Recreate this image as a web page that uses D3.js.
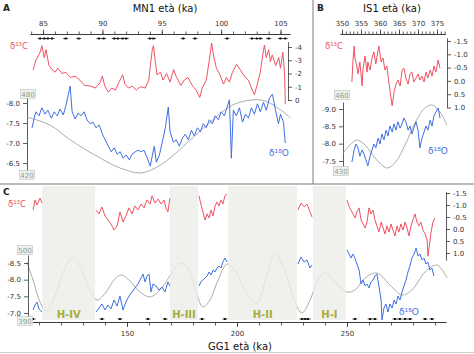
<!DOCTYPE html>
<html><head><meta charset="utf-8">
<script src="https://cdn.jsdelivr.net/npm/d3@7"></script>
<style>
body{margin:0;background:#fff;}
svg{display:block;font-family:"DejaVu Sans",Verdana,sans-serif;}
.axis path,.axis line{stroke:#333;stroke-width:0.8;}
.axis text{font-size:7px;fill:#333;font-family:"DejaVu Sans",Verdana,sans-serif;}
</style></head><body><div id="chart"></div>
<script>
// ---- data: [age ka, value]; null = gap in record ----
var aRed=[[84.16,-2.26],[84.4,-3.0],[84.75,-3.6],[84.9,-4.1],[85.1,-3.2],[85.25,-3.8],[85.5,-2.6],[85.75,-2.3],[86.0,-2.1],[86.25,-2.4],[86.6,-2.0],[86.9,-2.1],[87.3,-1.7],[87.7,-1.8],[88.1,-1.5],[88.5,-1.1],[89.0,-1.05],[89.4,-0.9],[89.8,-1.3],[90.0,-1.8],[90.2,-1.05],[90.5,-0.6],[90.8,-0.9],[91.1,-0.75],[91.4,-1.35],[91.7,-1.9],[91.9,-1.2],[92.2,-0.9],[92.5,-1.05],[92.85,-0.75],[93.2,-1.0],[93.6,-0.9],[93.9,-1.5],[94.0,-2.3],[94.2,-3.8],[94.3,-4.1],[94.45,-2.9],[94.6,-1.9],[94.9,-2.1],[95.1,-1.5],[95.4,-2.0],[95.7,-1.35],[96.0,-2.3],[96.2,-1.8],[96.6,-1.1],[96.9,-1.5],[97.2,-1.7],[97.6,-1.05],[97.9,-0.75],[98.2,-0.2],[98.4,-0.9],[98.75,-1.5],[99.0,-3.0],[99.2,-4.3],[99.35,-3.4],[99.6,-2.4],[99.85,-2.0],[100.2,-1.2],[100.45,-1.7],[100.7,-1.35],[100.95,-2.1],[101.3,-2.7],[101.6,-2.3],[101.95,-1.8],[102.3,-1.5],[102.55,-0.9],[102.8,-0.4],[103.05,-1.2],[103.3,-2.1],[103.5,-3.4],[103.65,-4.15],[103.8,-3.2],[104.0,-3.8],[104.15,-2.9],[104.3,-3.4],[104.6,-2.6],[104.85,-3.2],[105.0,-2.4],[105.2,-3.6],[105.35,-1.9],[105.4,0.3]];
var aBlue=[[84.07,-7.38],[84.25,-7.62],[84.4,-7.78],[84.66,-7.68],[84.9,-7.88],[85.17,-7.72],[85.4,-7.82],[85.7,-7.62],[85.93,-7.78],[86.2,-7.68],[86.43,-7.85],[86.7,-7.7],[86.94,-7.95],[87.1,-8.18],[87.28,-8.42],[87.45,-7.78],[87.7,-7.6],[87.95,-7.75],[88.2,-7.68],[88.46,-7.78],[88.7,-7.58],[88.97,-7.48],[89.2,-7.52],[89.47,-7.38],[89.73,-7.45],[90.0,-7.22],[90.23,-7.08],[90.5,-6.92],[90.74,-6.78],[91.0,-6.88],[91.24,-6.72],[91.5,-6.78],[91.75,-6.62],[92.0,-6.7],[92.26,-6.58],[92.5,-6.72],[92.76,-6.78],[93.0,-6.82],[93.27,-6.78],[93.5,-6.82],[93.78,-6.62],[94.03,-6.42],[94.2,-6.68],[94.37,-6.92],[94.54,-6.52],[94.8,-6.7],[95.04,-7.02],[95.3,-7.38],[95.55,-7.9],[95.7,-7.28],[95.97,-7.02],[96.22,-7.08],[96.48,-6.92],[96.73,-7.12],[96.98,-7.22],[97.24,-7.08],[97.5,-7.32],[97.74,-7.18],[98.0,-7.38],[98.25,-7.28],[98.5,-7.48],[98.75,-7.38],[99.0,-7.58],[99.26,-7.48],[99.5,-7.68],[99.77,-7.58],[100.0,-7.78],[100.27,-7.68],[100.53,-7.92],[100.7,-8.08],[100.86,-6.62],[101.03,-7.82],[101.28,-7.68],[101.54,-7.88],[101.8,-7.52],[102.05,-7.72],[102.3,-7.62],[102.55,-7.88],[102.8,-7.72],[103.06,-7.98],[103.3,-7.78],[103.57,-8.02],[103.8,-7.82],[104.07,-8.12],[104.32,-8.22],[104.58,-7.82],[104.83,-7.48],[105.0,-7.72],[105.25,-7.52],[105.4,-7.0]];
var aIns=[[83.65,465.8],[85.6,459],[87.3,446.7],[89.8,431.7],[91.5,423.3],[93.2,419.2],[94.45,423.3],[95.7,431.7],[97.4,446.7],[99.1,461.7],[100.8,475],[102.5,480],[103.7,479.2],[105.0,471.7],[105.85,465]];
var aDates=[84.75,85.1,85.4,85.75,86.9,88,89.7,90.1,91,91.3,91.7,92,94,94.3,96.8,97.8,100.5,102.6,103,103.3,104,105,105.4];

var bRed=[[352.6,0.04],[352.9,-0.79],[353.2,-1.31],[353.4,-0.86],[353.9,-0.56],[354.2,-0.26],[354.7,-0.71],[355.3,0.19],[355.5,-0.41],[356.05,-0.94],[356.6,-0.33],[356.8,-0.71],[357.4,-0.41],[357.9,-0.86],[358.4,-1.09],[358.9,-0.64],[359.5,-1.16],[359.7,-1.31],[360.3,-0.71],[360.8,-0.86],[361.3,-0.41],[361.8,-0.56],[362.4,0.12],[362.9,0.64],[363.2,0.94],[363.7,0.42],[364.2,0.12],[364.7,-0.03],[365.3,0.19],[365.8,-0.41],[366.3,-0.48],[366.8,-0.11],[367.4,0.12],[367.9,-0.26],[368.4,-0.33],[368.9,0.04],[369.5,-0.11],[370.0,-0.26],[370.5,-0.03],[371.05,-0.18],[371.6,0.04],[372.1,-0.33],[372.6,-0.11],[373.2,-0.41],[373.7,-0.18],[374.2,-0.56],[374.7,-0.33],[375.3,-0.79],[375.8,-0.48]];
var bBlue=[[352.6,-7.47],[353.2,-7.82],[353.7,-7.99],[354.2,-7.88],[354.7,-7.64],[355.3,-7.82],[355.8,-7.7],[356.3,-7.53],[356.8,-7.36],[357.4,-7.64],[357.9,-7.82],[358.4,-7.99],[358.9,-7.88],[359.5,-8.16],[360.0,-7.99],[360.5,-8.28],[361.05,-8.11],[361.6,-8.39],[362.1,-8.22],[362.6,-8.51],[363.2,-8.34],[363.7,-8.57],[364.2,-8.39],[364.7,-8.63],[365.3,-8.45],[365.8,-8.57],[366.3,-8.74],[366.8,-8.63],[367.4,-8.39],[367.9,-8.51],[368.4,-8.28],[368.9,-8.45],[369.5,-8.63],[370.0,-8.39],[370.5,-7.88],[371.05,-8.16],[371.6,-8.34],[372.1,-8.51],[372.6,-8.39],[373.2,-8.68],[373.7,-8.51],[374.2,-8.8],[374.7,-8.91],[375.3,-9.03],[375.8,-8.74]];
var bIns=[[350.26,436.8],[352.1,440],[353.9,442],[356.05,440],[358.7,434.8],[361.8,430.8],[363.9,432.8],[366.6,440],[369.2,448.8],[371.8,454.8],[373.7,456],[375.8,453.2],[377.6,448]];

var cRed=[[107.3,-0.79],[108.2,-1.21],[109.1,-1.0],[110.45,-1.29],[111.4,-1.08],null,
 [135.9,-0.79],[137.3,-0.63],[138.6,-0.92],[140.0,-0.54],[141.4,-0.38],[142.7,-0.21],[144.1,0.04],[145.5,-0.13],[146.8,-0.71],[148.2,-0.29],[149.5,-0.54],[150.9,-0.88],[152.3,-0.63],[153.6,-0.96],[155.0,-0.79],[156.4,-1.04],[157.7,-0.88],[159.1,-1.21],[160.5,-1.04],[161.4,-1.38],[162.7,-1.08],[164.1,-1.25],[165.5,-1.04],[166.8,-1.21],[167.7,-0.88],[168.6,-0.71],[169.5,-1.29],null,
 [182.7,-1.38],[183.6,-1.04],[184.5,-0.71],[185.5,-0.38],[186.4,-0.63],[187.3,-0.46],[188.2,-0.79],[189.1,-0.54],[190.0,-0.96],[190.9,-1.13],[191.8,-0.96],[192.7,-1.21],[193.6,-1.04],[194.5,-1.38],[195.5,-1.46],null,
 [227.7,-0.79],[229.1,-1.08],[230.5,-0.92],[231.8,-1.04],[233.2,-0.71],[234.1,-0.5],null,
 [250.0,-1.21],[250.9,-0.96],[251.8,-0.79],[252.7,-0.63],[253.6,-0.46],[254.5,-0.71],[255.5,-0.88],[256.4,-0.38],[257.3,-0.21],[258.2,-0.04],[259.1,-0.29],[260.0,-0.88],[260.9,-0.63],[261.8,-0.79],[262.7,-0.38],[263.6,-0.13],[264.5,0.13],[265.5,-0.29],[266.4,-0.04],[267.3,0.21],[268.2,-0.13],[269.1,0.13],[270.0,-0.21],[270.9,0.04],[271.8,0.29],[272.7,-0.13],[273.6,0.13],[274.5,-0.21],[275.5,0.04],[276.4,-0.29],[277.3,-0.04],[278.2,0.29],[279.1,-0.13],[280.0,-0.38],[280.9,-0.63],[281.8,-0.29],[282.7,-0.13],[283.6,-0.29],[284.5,0.04],[285.5,0.21],[286.4,0.46],[286.8,1.13],[287.3,0.79],[288.2,0.13],[289.1,-0.29],[290.0,-0.46]];
var cBlue=[[107.3,-7.09],[108.2,-7.24],[109.1,-7.33],[110.0,-7.12],[111.4,-7.03],null,
 [135.9,-7.03],[137.3,-7.15],[138.6,-7.27],[140.0,-7.09],[141.4,-7.24],[142.7,-7.12],[144.1,-7.39],[145.5,-7.21],[146.8,-7.51],[148.2,-7.09],[149.5,-7.33],[150.9,-7.51],[152.3,-7.63],[153.6,-7.75],[155.0,-7.87],[156.4,-8.05],[157.3,-8.17],[158.2,-7.93],[159.1,-8.11],[160.0,-8.17],[160.9,-7.63],[161.8,-7.87],[163.2,-7.81],[164.5,-7.69],[165.9,-7.78],[167.3,-7.63],[168.6,-7.93],[169.5,-7.81],null,
 [182.7,-7.81],[183.6,-7.93],[184.5,-7.99],[185.5,-8.05],[186.4,-8.11],[187.3,-8.23],[188.2,-8.14],[189.1,-8.29],[190.0,-8.23],[190.9,-8.35],[191.8,-8.41],[192.7,-8.35],[193.6,-8.53],[194.5,-8.65],[195.5,-8.53],null,
 [227.7,-8.47],[229.1,-8.68],[230.5,-8.53],[231.8,-8.59],[233.2,-8.35],[234.1,-8.44],null,
 [250.0,-8.89],[250.9,-8.77],[251.8,-8.65],[252.7,-8.77],[253.6,-8.65],[254.5,-8.47],[255.5,-8.29],[256.4,-7.87],[257.3,-7.99],[258.2,-7.81],[259.1,-7.87],[260.0,-7.75],[260.9,-7.93],[261.8,-7.99],[262.7,-8.11],[263.6,-8.17],[264.5,-7.81],[265.5,-7.39],[265.9,-6.79],[266.8,-7.15],[267.7,-7.27],[268.6,-7.03],[269.5,-7.27],[270.5,-7.15],[271.4,-7.39],[272.3,-7.27],[273.2,-7.51],[274.1,-7.39],[275.0,-7.63],[275.9,-7.81],[276.8,-7.99],[277.7,-8.23],[278.6,-8.41],[279.5,-8.65],[280.5,-8.77],[281.4,-8.95],[282.3,-8.71],[283.2,-8.77],[284.1,-8.59],[285.0,-8.65],[285.9,-8.47],[286.8,-8.53],[287.7,-8.29],[288.6,-8.35],[289.5,-8.11]];
var cIns=[[104.5,481.7],[107.3,454.2],[110.45,420.5],[113.2,406.8],[117.3,429.7],[121.4,469.4],[125.0,487.8],[128.6,475.6],[132.7,441.9],[136.4,423.6],[140.5,435.8],[144.1,454.2],[147.3,461.8],[151.4,452.6],[155.9,435.8],[160.5,428.2],[165.0,438.9],[169.5,460.3],[174.1,480.1],[177.7,472.5],[181.4,435.8],[184.5,412.9],[187.7,423.6],[191.4,454.2],[195.5,478.6],[199.5,466.4],[204.1,435.8],[209.1,419.0],[213.2,457.2],[217.3,495.4],[221.8,466.4],[226.4,420.5],[229.5,403.7],[233.2,423.6],[236.8,454.2],[240.0,464.9],[244.5,451.1],[250.0,435.8],[253.6,438.9],[258.2,457.2],[263.6,464.9],[269.5,446.5],[275.0,431.2],[279.5,438.9],[285.5,466.4],[290.9,477.1],[295.5,457.2]];
var cDates=[107.3,138.6,146.8,159.5,167.3,184.1,194.5,229.5,231,232.3,253.6,260.5,262.7,271.8,274,276.4,278.6,285.5,288.6];
var heinrich=[{name:"H-IV",from:111.5,to:135.5},{name:"H-III",from:169.5,to:182.3},{name:"H-II",from:196,to:227.3},{name:"H-I",from:234.5,to:249.5}];

var RED="#f05262", BLUE="#3f6fe2", GRAY="#a3a3a3";

var svg=d3.select("#chart").append("svg").attr("width",474).attr("height",354);

function pts(arr){return arr.map(function(d){return d?{a:d[0],v:d[1]}:null;});}
function series(x,y,arr,color,w,curve){
    svg.append("path").datum(pts(arr)).attr("fill","none").attr("stroke",color).attr("stroke-width",w)
        .attr("stroke-linejoin","round")
        .attr("d",d3.line().defined(function(d){return d!==null;})
            .x(function(d){return x(d.a);}).y(function(d){return y(d.v);}).curve(curve||d3.curveLinear));
}
function insBox(x,y,t){
    var g=svg.append("g").attr("transform","translate("+x+","+y+")");
    g.append("rect").attr("x",-7.5).attr("y",-4.5).attr("width",15).attr("height",9)
        .attr("fill","#eef1ee").attr("stroke","#b7c3b7").attr("stroke-width",0.6);
    g.append("text").attr("text-anchor","middle").attr("y",2.6).attr("font-size",7).attr("fill","#8d9c8d").text(t);
}
function dates(x,ages,y){
    var g=svg.append("g");
    ages.forEach(function(a){
        g.append("line").attr("x1",x(a)-2.5).attr("x2",x(a)+2.5).attr("y1",y).attr("y2",y).attr("stroke","#222").attr("stroke-width",0.8);
        g.append("rect").attr("x",x(a)-1).attr("y",y-1).attr("width",2).attr("height",2).attr("fill","#111");
    });
}
function label(x,y,t,o){
    var el=svg.append("text").attr("x",x).attr("y",y).text(t);
    o=o||{};
    el.attr("font-size",o.size||9).attr("fill",o.fill||"#222").attr("text-anchor",o.anchor||"start");
    if(o.weight)el.attr("font-weight",o.weight);
    return el;
}
function fmt1(d){return d3.format(".1f")(d).replace("\u2212","-");}

// frame lines
svg.append("line").attr("x1",0).attr("x2",474).attr("y1",184).attr("y2",184).attr("stroke","#7a7a7a").attr("stroke-width",1);
svg.append("line").attr("x1",313).attr("x2",313).attr("y1",0).attr("y2",184).attr("stroke","#7a7a7a").attr("stroke-width",1);
svg.append("line").attr("x1",0).attr("x2",474).attr("y1",352.5).attr("y2",352.5).attr("stroke","#d0d0d0").attr("stroke-width",1);

// ===== Panel A: MN1 =====
var xA=d3.scaleLinear().domain([83.9,105.8]).range([30,290]);
var yRA=d3.scaleLinear().domain([0,-4.4]).range([100,41.7]);
var yBA=d3.scaleLinear().domain([-8.125,-6.275]).range([98,172]);
var yIA=d3.scaleLinear().domain([480,420]).range([100,172]);

svg.append("g").attr("class","axis").attr("transform","translate(0,34)")
    .call(d3.axisTop(xA).tickValues(d3.range(84,106)).tickSize(2.5).tickSizeOuter(0).tickFormat(""));
svg.append("g").attr("class","axis").attr("transform","translate(0,34)")
    .call(d3.axisTop(xA).tickValues([85,90,95,100,105]).tickSize(4.5).tickSizeOuter(0).tickPadding(4));
svg.append("g").attr("class","axis").attr("transform","translate(288,0)")
    .call(d3.axisRight(yRA).tickValues([-4,-3,-2,-1,0]).tickSize(4).tickSizeOuter(0).tickFormat(function(d){return String(d);}));
svg.append("g").attr("class","axis").attr("transform","translate(27,0)")
    .call(d3.axisLeft(yBA).tickValues([-8,-7.5,-7,-6.5]).tickSize(4).tickSizeOuter(0).tickFormat(fmt1));

series(xA,yIA,aIns,GRAY,0.9,d3.curveCatmullRom);
series(xA,yRA,aRed,RED,1);
series(xA,yBA,aBlue,BLUE,1);
dates(xA,aDates,38.5);
insBox(28,94,"480"); insBox(27,175,"420");
label(3,11,"A",{size:9,weight:"bold"});
label(165,12,"MN1 età (ka)",{size:10,anchor:"middle",fill:"#111"});
label(10,49,"δ¹³C",{fill:RED,size:8.5});
label(279,156,"δ¹⁸O",{fill:BLUE,size:9,anchor:"middle"});

// ===== Panel B: IS1 =====
var xB=d3.scaleLinear().domain([349.5,377.2]).range([340.1,445.36]);
var yRB=d3.scaleLinear().domain([-1.62,1.0]).range([37.8,107.5]);
var yBB=d3.scaleLinear().domain([-9.2,-7.3]).range([102.07,167.93]);
var yIB=d3.scaleLinear().domain([460,430]).range([95,170]);

svg.append("g").attr("class","axis").attr("transform","translate(0,34)")
    .call(d3.axisTop(xB).tickValues(d3.range(350,378)).tickSize(2.5).tickSizeOuter(0).tickFormat(""));
svg.append("g").attr("class","axis").attr("transform","translate(0,34)")
    .call(d3.axisTop(xB).tickValues([350,355,360,365,370,375]).tickSize(4.5).tickSizeOuter(0).tickPadding(4));
svg.append("g").attr("class","axis").attr("transform","translate(447,0)")
    .call(d3.axisRight(yRB).tickValues([-1.5,-1,-0.5,0,0.5,1]).tickSize(4).tickSizeOuter(0).tickFormat(fmt1));
svg.append("g").attr("class","axis").attr("transform","translate(343,0)")
    .call(d3.axisLeft(yBB).tickValues([-9,-8.5,-8,-7.5]).tickSize(4).tickSizeOuter(0).tickFormat(fmt1));

series(xB,yIB,bIns,GRAY,0.9,d3.curveCatmullRom);
series(xB,yRB,bRed,RED,1);
series(xB,yBB,bBlue,BLUE,1);
insBox(342,95,"460"); insBox(341,171,"430");
label(317,11,"B",{size:9,weight:"bold"});
label(392,12,"IS1 età (ka)",{size:10,anchor:"middle",fill:"#111"});
label(325,49,"δ¹³C",{fill:RED,size:8.5});
label(438,154,"δ¹⁸O",{fill:BLUE,size:9,anchor:"middle"});

// ===== Panel C: GG1 =====
var xC=d3.scaleLinear().domain([107,295]).range([32.4,446]);
var yRC=d3.scaleLinear().domain([-1.55,1.3]).range([191.8,260.2]);
var yBC=d3.scaleLinear().domain([-8.74,-6.85]).range([255,318]);
var yIC=d3.scaleLinear().domain([500,390]).range([250,322]);

series(xC,yIC,cIns,GRAY,0.9,d3.curveCatmullRom);
svg.append("g").selectAll("rect").data(heinrich).enter().append("rect")
    .attr("x",function(d){return xC(d.from);}).attr("width",function(d){return xC(d.to)-xC(d.from);})
    .attr("y",186).attr("height",134).attr("fill","#ececE7").attr("opacity",0.8);

svg.append("g").attr("class","axis").attr("transform","translate(0,322)")
    .call(d3.axisBottom(xC).tickValues(d3.range(110,300,10)).tickSize(3.5).tickSizeOuter(0).tickFormat(""));
svg.append("g").attr("class","axis").attr("transform","translate(0,322)")
    .call(d3.axisBottom(xC).tickValues([150,200,250]).tickSize(5).tickSizeOuter(0).tickPadding(4));
svg.append("g").attr("class","axis").attr("transform","translate(446,0)")
    .call(d3.axisRight(yRC).tickValues([-1.5,-1,-0.5,0,0.5,1]).tickSize(4).tickSizeOuter(0).tickFormat(fmt1));
svg.append("g").attr("class","axis").attr("transform","translate(28,0)")
    .call(d3.axisLeft(yBC).tickValues([-8.5,-8,-7.5,-7]).tickSize(4).tickSizeOuter(0).tickFormat(fmt1));

series(xC,yRC,cRed,RED,1);
series(xC,yBC,cBlue,BLUE,1);
dates(xC,cDates,319);
svg.append("g").selectAll("text").data(heinrich).enter().append("text")
    .attr("x",function(d){return (xC(d.from)+xC(d.to))/2;}).attr("y",318)
    .attr("text-anchor","middle").attr("font-size",10).attr("font-weight","bold").attr("fill","#a6ad3c")
    .text(function(d){return d.name;});
insBox(25,250,"500"); insBox(25,321,"390");
label(3,195,"C",{size:9,weight:"bold"});
label(240,350,"GG1 età (ka)",{size:10,anchor:"middle",fill:"#111"});
label(8,207,"δ¹³C",{fill:RED,size:8.5});
label(409,315,"δ¹⁸O",{fill:BLUE,size:9,anchor:"middle"});
</script></body></html>
